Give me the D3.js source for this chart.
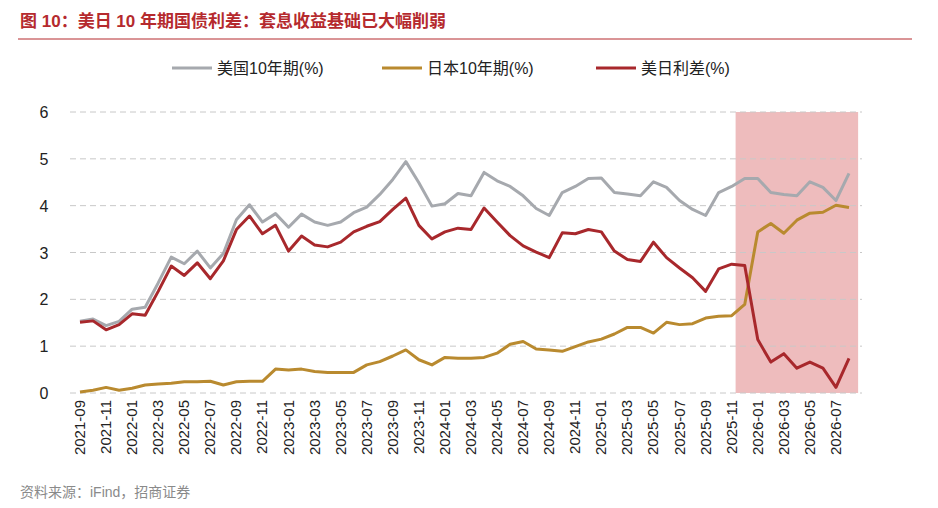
<!DOCTYPE html>
<html><head><meta charset="utf-8">
<script src="https://cdn.jsdelivr.net/npm/d3@7"></script>
<style>body{margin:0;background:#fff;font-family:"Liberation Sans","Noto Sans CJK SC",sans-serif;}</style>
</head><body><div id="wrapper"></div>
<script>
// months 2021-09 .. 2026-08
const months = d3.range(60).map(i => {
  const m = 8 + i; return `${2021 + Math.floor(m / 12)}-${String(m % 12 + 1).padStart(2, "0")}`;
});
const us10 = [1.53,1.58,1.44,1.53,1.79,1.83,2.35,2.9,2.76,3.03,2.67,2.98,3.7,4.02,3.65,3.83,3.54,3.82,3.65,3.58,
  3.65,3.85,3.97,4.24,4.56,4.94,4.49,3.99,4.04,4.26,4.21,4.71,4.53,4.41,4.21,3.94,3.79,4.28,4.41,4.58,
  4.59,4.28,4.25,4.21,4.51,4.39,4.11,3.92,3.79,4.28,4.41,4.58,4.58,4.28,4.24,4.21,4.51,4.39,4.11,4.69];
const jp10 = [0.02,0.06,0.12,0.06,0.1,0.17,0.19,0.21,0.24,0.24,0.25,0.17,0.24,0.25,0.25,0.51,0.49,0.51,0.46,0.44,
  0.44,0.44,0.6,0.67,0.79,0.92,0.71,0.6,0.76,0.74,0.74,0.76,0.85,1.04,1.1,0.94,0.92,0.89,0.99,1.09,
  1.15,1.26,1.4,1.4,1.28,1.51,1.46,1.48,1.6,1.64,1.65,1.89,3.44,3.62,3.41,3.69,3.84,3.86,4.01,3.96];
const spread = [1.51,1.54,1.35,1.46,1.69,1.66,2.17,2.71,2.51,2.78,2.44,2.82,3.49,3.78,3.4,3.58,3.03,3.35,3.16,3.12,
  3.22,3.44,3.56,3.66,3.92,4.16,3.58,3.29,3.44,3.52,3.49,3.95,3.65,3.36,3.14,3.01,2.89,3.42,3.4,3.49,
  3.44,3.03,2.85,2.81,3.22,2.89,2.67,2.46,2.17,2.65,2.75,2.72,1.14,0.66,0.84,0.53,0.66,0.53,0.12,0.74];
const seriesNames = ["美国10年期(%)", "日本10年期(%)", "美日利差(%)"];
const colors = ["#a6a9ae", "#b98a2f", "#a8282c"];
const yTicks = [0, 1, 2, 3, 4, 5, 6];
const shadeFrom = 50.3, shadeTo = 59.7; // month index span of highlighted band

const width = 938, height = 508;
const svg = d3.select("#wrapper").append("svg").attr("width", width).attr("height", height);

// Title
svg.append("text").attr("x", 20).attr("y", 27).attr("fill", "#b52a2e")
  .attr("font-size", 17).attr("font-weight", "bold").text("图 10：美日 10 年期国债利差：套息收益基础已大幅削弱");
svg.append("line").attr("x1", 18).attr("x2", 912).attr("y1", 39).attr("y2", 39)
  .attr("stroke", "#b52a2e").attr("stroke-width", 1);

const x = d3.scaleLinear().domain([0, 59]).range([80, 849]);
const y = d3.scaleLinear().domain([0, 6]).range([393, 112]);

// shade
svg.append("rect").attr("x", x(shadeFrom)).attr("y", y(6))
  .attr("width", x(shadeTo) - x(shadeFrom)).attr("height", y(0) - y(6)).attr("fill", "#eebcbd");

// grid
svg.append("g").selectAll("line").data(yTicks).join("line")
  .attr("x1", 70).attr("x2", 862).attr("y1", d => y(d)).attr("y2", d => y(d))
  .attr("stroke", "#c8c8c8").attr("stroke-dasharray", "6,4");

// y labels
svg.append("g").selectAll("text").data(yTicks).join("text")
  .attr("x", 44).attr("y", d => y(d) + 6).attr("text-anchor", "middle")
  .attr("font-size", 16).attr("fill", "#222").text(d => d);

// x labels
svg.append("g").selectAll("text").data(months.filter((m, i) => i % 2 === 0)).join("text")
  .attr("transform", d => `translate(${x(months.indexOf(d)) + 5},${400}) rotate(-90)`)
  .attr("text-anchor", "end").attr("font-size", 15).attr("fill", "#222").text(d => d);

// lines
const line = d3.line().x((d, i) => x(i)).y(d => y(d));
[us10, jp10, spread].forEach((s, k) => {
  svg.append("path").datum(s).attr("d", line).attr("fill", "none")
    .attr("stroke", colors[k]).attr("stroke-width", 3).attr("stroke-linejoin", "round");
});

// legend
const legX = [172, 382, 596];
seriesNames.forEach((n, k) => {
  svg.append("line").attr("x1", legX[k]).attr("x2", legX[k] + 40).attr("y1", 68).attr("y2", 68)
    .attr("stroke", colors[k]).attr("stroke-width", 3);
  svg.append("text").attr("x", legX[k] + 45).attr("y", 74).attr("font-size", 16).attr("fill", "#222").text(n);
});

// source
svg.append("text").attr("x", 20).attr("y", 497).attr("font-size", 14).attr("fill", "#8a8a8a")
  .text("资料来源：iFind，招商证券");
</script>
</body></html>
